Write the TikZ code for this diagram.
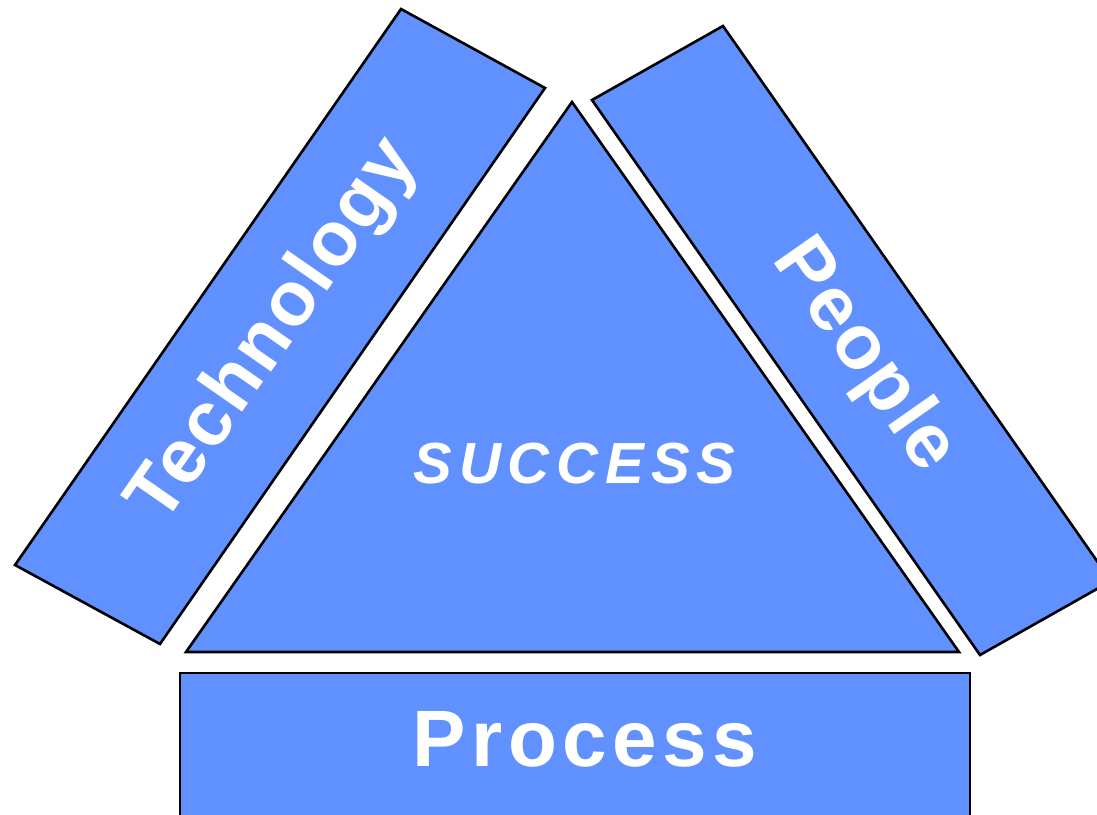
\documentclass[tikz,border=0pt]{standalone}
\usepackage{fontspec}
\setmainfont{Liberation Sans}
\newfontfamily\tpnarrow[LetterSpace=3]{Liberation Sans}
\newfontfamily\tpwide[LetterSpace=7]{Liberation Sans}
\newfontfamily\tpsuccess[LetterSpace=12]{Liberation Sans}
\definecolor{tpblue}{RGB}{97,145,255}
\tikzset{
  tpshape/.style={draw=black, line width=2.6pt, fill=tpblue, line join=miter},
  tplabel/.style={text=white, inner sep=0pt},
  tpside/.style={tplabel, font=\tpnarrow\bfseries\fontsize{77}{90}\selectfont}
}

\begin{document}
\begin{tikzpicture}[x=1pt, y=-1pt]
  \useasboundingbox (0,0) rectangle (1097,814);
  \clip (0,0) rectangle (1097,814);
  \draw[tpshape] (15,565) coordinate (techSW) -- (401,9) coordinate (techNW)
    -- (545,88) coordinate (techNE) -- (160,644) coordinate (techSE) -- cycle;
  \node[tpside, rotate=55.2] (tech) at (275,332) {Technology};
  \draw[tpshape] (592,100) coordinate (peopNW) -- (723,26) coordinate (peopNE)
    -- (1111,581) coordinate (peopSE) -- (980,655) coordinate (peopSW) -- cycle;
  \node[tpside, rotate=-55] (people) at (864,356) {People};
  \draw[tpshape] (572,102) coordinate (apex) -- (959,652) coordinate (baseR)
    -- (186,652) coordinate (baseL) -- cycle;
  \node[tplabel, font=\tpsuccess\bfseries\itshape\fontsize{58}{70}\selectfont] (success) at (574.5,464) {SUCCESS};
  \draw[tpshape] (180,673) coordinate (procNW) rectangle (970,840) coordinate (procSE);
  \node[tplabel, font=\tpwide\bfseries\fontsize{80}{96}\selectfont] (process) at (585,739) {Process};
\end{tikzpicture}
\end{document}
